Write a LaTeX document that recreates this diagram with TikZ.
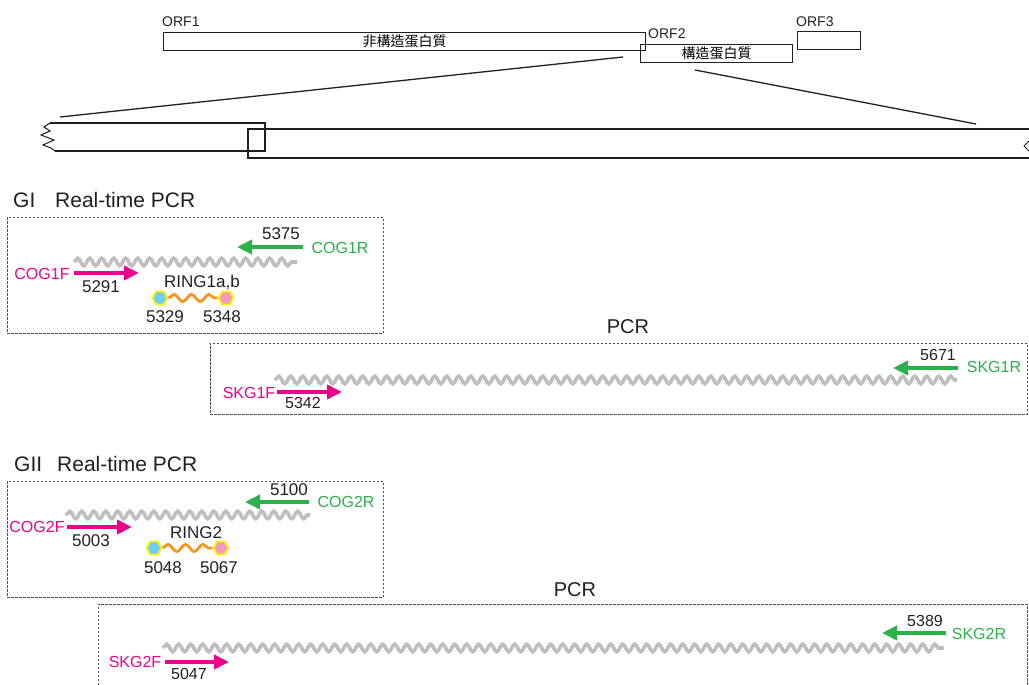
\documentclass[tikz,border=0pt]{standalone}
\usepackage{fontspec}
\setmainfont{Liberation Sans}
\newfontfamily\cjk{Noto Sans CJK TC}
\usetikzlibrary{arrows.meta,decorations.pathmorphing,shapes.geometric}
\definecolor{mag}{HTML}{EC008C}
\definecolor{grn}{HTML}{2BB04A}
\definecolor{wavegray}{HTML}{BCBEC0}
\definecolor{orng}{HTML}{F7941D}
\definecolor{ylw}{HTML}{FFF200}
\definecolor{sky}{HTML}{6DCFF6}
\definecolor{pnk}{HTML}{F49AC1}
\definecolor{ink}{HTML}{231F20}
\tikzset{
  txt/.style={inner sep=0pt, text=ink},
  orflbl/.style={txt, anchor=south west, font=\fontsize{14}{16}\selectfont},
  orfbox/.style={draw=ink, line width=1.1pt, inner sep=0pt, anchor=north west, font=\cjk\fontsize{14}{16}\selectfont},
  head/.style={txt, anchor=west, font=\fontsize{21}{25}\selectfont},
  lbl/.style={txt, font=\fontsize{16}{18}\selectfont},
  numl/.style={txt, font=\fontsize{17}{19}\selectfont},
  dbox/.style={draw=ink!80, line width=0.7pt, dash pattern=on 2.5pt off 1.5pt},
  dna/.style={draw=wavegray, line width=3.6pt, decorate, decoration={snake, segment length=12pt, amplitude=3.8pt}},
  probe/.style={draw=orng, line width=2.8pt, decorate, decoration={snake, segment length=17.5pt, amplitude=3.6pt}},
  fwd/.style={draw=mag, line width=4.5pt, -{Triangle[length=15pt,width=14pt]}},
  rev/.style={draw=grn, line width=4.5pt, -{Triangle[length=15pt,width=14pt]}},
  hexa/.style={regular polygon, regular polygon sides=6, minimum size=15pt, inner sep=0pt, draw=ylw, line width=1.8pt},
  zoomline/.style={draw=ink, line width=1.3pt},
}
\begin{document}
\begin{tikzpicture}[x=1pt,y=-1pt]
\useasboundingbox (0,0) rectangle (1029,685);

% ---------- top ORF map ----------
\node[orflbl] (orf1l) at (162,27) {ORF1};
\node[orfbox, minimum width=482pt, minimum height=18pt] (orf1) at (163,32) {非構造蛋白質};
\node[orflbl] (orf2l) at (648,39) {ORF2};
\node[orfbox, minimum width=152pt, minimum height=18pt] (orf2) at (640,44) {構造蛋白質};
\node[orflbl] (orf3l) at (796,27) {ORF3};
\node[orfbox, minimum width=63pt, minimum height=18pt] (orf3) at (797,31) {};

% zoom lines
\coordinate (za) at (623,57);
\coordinate (zb) at (60,117);
\coordinate (zc) at (695,70);
\coordinate (zd) at (976,124);
\draw[zoomline] (za) -- (zb);
\draw[zoomline] (zc) -- (zd);

% expanded region
\draw[draw=ink, line width=1.1pt] (50,123) -- (265,123) -- (265,151) -- (55,151);
\draw[draw=ink, line width=1pt] (50,123) -- (44,127) -- (50,131) -- (41,135) -- (54,140) -- (43,145) -- (51,148) -- (55,151);
\draw[draw=ink, line width=1.1pt] (1029,129) -- (248,129) -- (248,158) -- (1029,158);
\draw[draw=ink, line width=0.9pt] (1029,141) -- (1024,146) -- (1029,151);

% ---------- GI real-time ----------
\node[head] (gi) at (13,200) {GI};
\node[head] (girt) at (55,200) {Real-time PCR};
\node[dbox, anchor=north west, minimum width=376pt, minimum height=116pt, inner sep=0pt] (gibox) at (7,217) {};
\coordinate (w1a) at (74,262);
\coordinate (w1b) at (297,262);
\draw[dna] (w1a) -- (w1b);
\coordinate (r1a) at (303,247);
\coordinate (r1b) at (237,247);
\draw[rev] (r1a) -- (r1b);
\node[numl] (n5375) at (281,234) {5375};
\node[lbl, text=grn] (cog1r) at (340,248) {COG1R};
\coordinate (f1a) at (74,273);
\coordinate (f1b) at (139,273);
\draw[fwd] (f1a) -- (f1b);
\node[lbl, text=mag] (cog1f) at (42,274) {COG1F};
\node[numl] (n5291) at (101,287) {5291};
\node[numl] (ring1) at (202,282) {RING1a,b};
\node[hexa, fill=sky] (h1a) at (160,298) {};
\node[hexa, fill=pnk] (h1b) at (226,298) {};
\draw[probe] (h1a) -- (h1b);
\node[numl] (n5329) at (165,317) {5329};
\node[numl] (n5348) at (222,317) {5348};

% ---------- GI PCR ----------
\node[txt, font=\fontsize{20}{24}\selectfont] (pcr1) at (628,327) {PCR};
\node[dbox, anchor=north west, minimum width=817pt, minimum height=71pt, inner sep=0pt] (pcr1box) at (210,343) {};
\coordinate (w2a) at (275,380);
\coordinate (w2b) at (957,380);
\draw[dna] (w2a) -- (w2b);
\coordinate (r2a) at (958,368);
\coordinate (r2b) at (893,368);
\draw[rev] (r2a) -- (r2b);
\node[lbl] (n5671) at (938,355) {5671};
\node[lbl, text=grn] (skg1r) at (994,367) {SKG1R};
\coordinate (f2a) at (277,392);
\coordinate (f2b) at (342,392);
\draw[fwd] (f2a) -- (f2b);
\node[lbl, text=mag] (skg1f) at (249,393) {SKG1F};
\node[lbl] (n5342) at (303,403) {5342};

% ---------- GII real-time ----------
\node[head] (gii) at (14,464) {GII};
\node[head] (giirt) at (57,464) {Real-time PCR};
\node[dbox, anchor=north west, minimum width=376pt, minimum height=116pt, inner sep=0pt] (giibox) at (7,481) {};
\coordinate (w3a) at (66,515);
\coordinate (w3b) at (310,515);
\draw[dna] (w3a) -- (w3b);
\coordinate (r3a) at (309,502);
\coordinate (r3b) at (245,502);
\draw[rev] (r3a) -- (r3b);
\node[numl] (n5100) at (289,490) {5100};
\node[lbl, text=grn] (cog2r) at (346,502) {COG2R};
\coordinate (f3a) at (67,527);
\coordinate (f3b) at (132,527);
\draw[fwd] (f3a) -- (f3b);
\node[lbl, text=mag] (cog2f) at (37,527) {COG2F};
\node[numl] (n5003) at (91,541) {5003};
\node[numl] (ring2) at (196,533) {RING2};
\node[hexa, fill=sky] (h2a) at (154,548) {};
\node[hexa, fill=pnk] (h2b) at (221,548) {};
\draw[probe] (h2a) -- (h2b);
\node[numl] (n5048) at (163,568) {5048};
\node[numl] (n5067) at (219,568) {5067};

% ---------- GII PCR ----------
\node[txt, font=\fontsize{20}{24}\selectfont] (pcr2) at (575,590) {PCR};
\draw[dbox] (98,685) -- (98,604) -- (1027,604) -- (1027,685);
\coordinate (w4a) at (163,648);
\coordinate (w4b) at (944,648);
\draw[dna] (w4a) -- (w4b);
\coordinate (r4a) at (946,633);
\coordinate (r4b) at (882,633);
\draw[rev] (r4a) -- (r4b);
\node[lbl] (n5389) at (925,621) {5389};
\node[lbl, text=grn] (skg2r) at (979,634) {SKG2R};
\coordinate (f4a) at (165,662);
\coordinate (f4b) at (229,662);
\draw[fwd] (f4a) -- (f4b);
\node[lbl, text=mag] (skg2f) at (135,662) {SKG2F};
\node[lbl] (n5047) at (189,674) {5047};
\end{tikzpicture}
\end{document}
